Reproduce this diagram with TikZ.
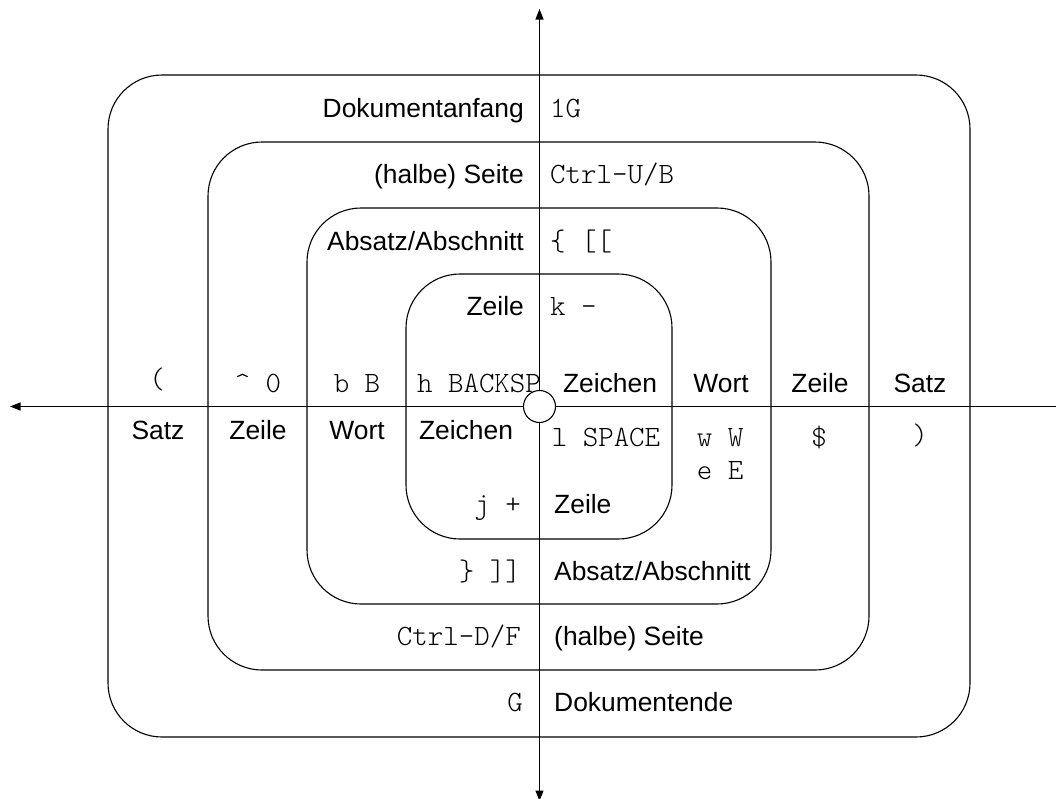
\documentclass[tikz,border=0pt]{standalone}
\usepackage{fontspec}
\setsansfont{Liberation Sans}
\setmonofont{Latin Modern Mono Light}
\usetikzlibrary{arrows.meta}
\begin{document}
\begin{tikzpicture}[x=1pt,y=-1pt,
  ring/.style={line width=1.1pt, rounded corners=54pt},
  axis/.style={line width=1.1pt, {Triangle[length=10.5pt,width=8pt]}-{Triangle[length=10.5pt,width=8pt]}},
  sl/.style={inner sep=0pt, font=\fontsize{26.4pt}{30pt}\selectfont\sffamily},
  ml/.style={inner sep=0pt, font=\fontsize{29.5pt}{33pt}\selectfont\ttfamily},
]
\useasboundingbox (0,0) rectangle (1056,798);
\clip (0,0) rectangle (1056,798);
% rings
\draw[ring] (108,75) rectangle (970,737);
\draw[ring] (208,142) rectangle (869,670);
\draw[ring] (307,208) rectangle (771,604);
\draw[ring] (406,274) rectangle (672,539);
% axes
\coordinate (axL) at (10,406.5);
\coordinate (axR) at (1068,406.5);
\coordinate (axT) at (539.5,9);
\coordinate (axB) at (539.5,801);
\draw[axis] (axR) -- (axL);
\draw[axis] (axB) -- (axT);
\node[circle, draw, fill=white, minimum size=32pt, inner sep=0pt, line width=1.1pt] (o) at (539.5,406.5) {};
% upper quadrant
\node[sl, anchor=base east] (a1) at (524,117) {Dokumentanfang};
\node[ml, anchor=base west] (b1) at (550,117) {1G};
\node[sl, anchor=base east] (a2) at (524,183) {(halbe) Seite};
\node[ml, anchor=base west] (b2) at (550,183) {Ctrl-U/B};
\node[sl, anchor=base east] (a3) at (524,250) {Absatz/Abschnitt};
\node[ml, anchor=base west] (b3) at (550,250) {\{ [[};
\node[sl, anchor=base east] (a4) at (524,315) {Zeile};
\node[ml, anchor=base west] (b4) at (550,315) {k -};
% lower quadrant
\node[ml, anchor=base east] (c4) at (521,513) {j +};
\node[sl, anchor=base west] (d4) at (554,513) {Zeile};
\node[ml, anchor=base east] (c3) at (521,580) {\} ]]};
\node[sl, anchor=base west] (d3) at (554,580) {Absatz/Abschnitt};
\node[ml, anchor=base east] (c2) at (521,645) {Ctrl-D/F};
\node[sl, anchor=base west] (d2) at (554,645) {(halbe) Seite};
\node[ml, anchor=base east] (c1) at (523,711) {G};
\node[sl, anchor=base west] (d1) at (554,711) {Dokumentende};
% horizontal row, above
\node[ml, anchor=base] (u1) at (157,388) {(};
\node[ml, anchor=base] (u2) at (258,392) {\textasciicircum{} 0};
\node[ml, anchor=base] (u3) at (357,392) {b B};
\node[ml, anchor=base] (u4) at (479,392) {h BACKSP};
\node[sl, anchor=base] (u5) at (610,392) {Zeichen};
\node[sl, anchor=base] (u6) at (721,392) {Wort};
\node[sl, anchor=base] (u7) at (820,392) {Zeile};
\node[sl, anchor=base] (u8) at (920,392) {Satz};
% horizontal row, below
\node[sl, anchor=base] (l1) at (158,439) {Satz};
\node[sl, anchor=base] (l2) at (258,439) {Zeile};
\node[sl, anchor=base] (l3) at (357,439) {Wort};
\node[sl, anchor=base] (l4) at (466,439) {Zeichen};
\node[ml, anchor=base] (l5) at (606,446) {l SPACE};
\node[ml, anchor=base] (l6) at (720,446) {w W};
\node[ml, anchor=base] (l6b) at (720,479) {e E};
\node[ml, anchor=base] (l7) at (819,446) {\$};
\node[ml, anchor=base] (l8) at (920,444) {)};
\end{tikzpicture}
\end{document}
